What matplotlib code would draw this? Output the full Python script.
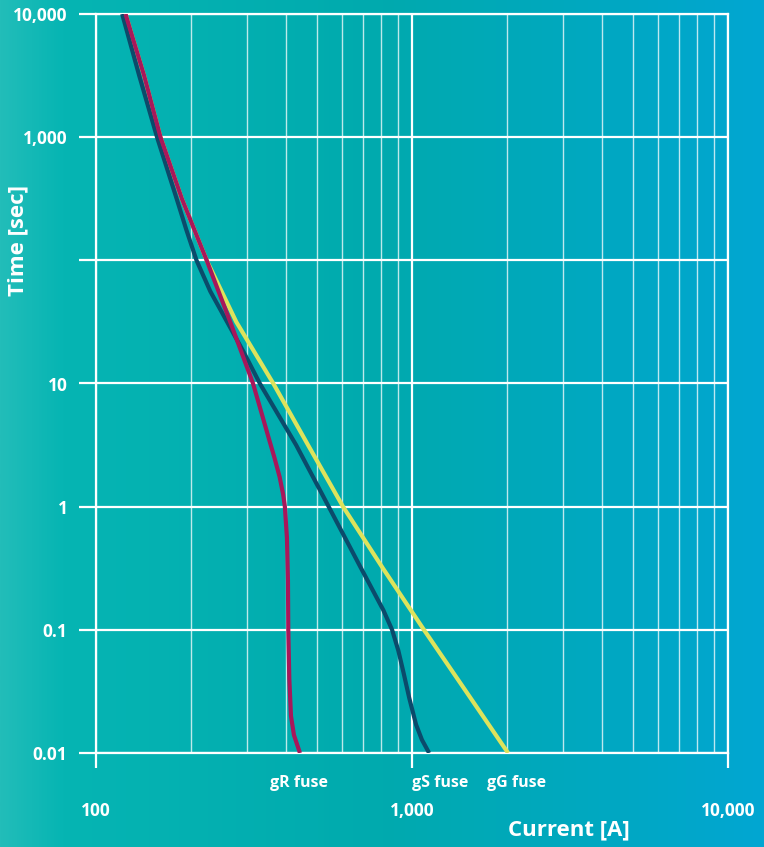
import matplotlib as mpl
mpl.use('Agg')
import matplotlib.pyplot as plt
import numpy as np
from matplotlib.colors import LinearSegmentedColormap

plt.rcParams['font.family'] = ['Open Sans', 'DejaVu Sans']

# data (current in A, time in s)
gR_current = [124, 142, 160, 187, 224, 266, 314, 335, 351, 367, 381, 391, 396, 402, 405, 406, 409, 414, 423, 442]
gR_time = [10000, 3160, 1000, 316, 100, 31.6, 10, 5.62, 3.7, 2.5, 1.75, 1.26, 1.0, 0.56, 0.25, 0.1, 0.04, 0.02, 0.014, 0.01]

gS_current = [121, 137, 156, 180, 193, 208, 230, 260, 294, 330, 430, 545, 690, 811, 865, 905, 940, 980, 1030, 1075, 1133]
gS_time = [10000, 3160, 1000, 316, 178, 100, 56, 31.6, 17.8, 10, 3.16, 1.0, 0.316, 0.145, 0.1, 0.068, 0.045, 0.028, 0.017, 0.0128, 0.01]

gG_current = [124, 142, 160, 187, 224, 278, 364, 469, 605, 809, 1091, 1483, 2014]
gG_time = [10000, 3160, 1000, 316, 100, 31.6, 10, 3.16, 1.0, 0.316, 0.1, 0.0316, 0.01]

y_ticks = [0.01, 0.1, 1, 10, 100, 1000, 10000]
y_ticklabels = ['0.01', '0.1', '1', '10', '', '1,000', '10,000']
x_ticks = [100, 1000, 10000]
x_ticklabels = ['100', '1,000', '10,000']

fuse_names = ['gR fuse', 'gS fuse', 'gG fuse']
fuse_label_x = [439, 1227, 2148]

fig = plt.figure(figsize=(7.64, 8.47), dpi=100)

# background gradient
bg = fig.add_axes([0, 0, 1, 1], zorder=-10)
cmap = LinearSegmentedColormap.from_list('bg', [
    (0.0, '#22bdb9'), (0.08, '#06b5b3'), (0.5, '#00aaae'),
    (0.8, '#00a8c2'), (1.0, '#02a6d2')])
bg.imshow(np.linspace(0, 1, 256)[None, :], aspect='auto', cmap=cmap, extent=[0, 1, 0, 1])
bg.axis('off')

ax = fig.add_axes([96 / 764, 94 / 847, 632 / 764, 739 / 847])
ax.set_facecolor('none')
ax.set_xscale('log')
ax.set_yscale('log')
ax.set_xlim(100, 10000)
ax.set_ylim(0.01, 10000)

for s in ax.spines.values():
    s.set_color('white')
    s.set_linewidth(1.6)

ax.set_yticks(y_ticks)
ax.set_yticklabels(y_ticklabels)
ax.yaxis.set_minor_locator(mpl.ticker.NullLocator())
ax.set_xticks(x_ticks)
ax.set_xticklabels(x_ticklabels)
ax.xaxis.set_minor_locator(mpl.ticker.LogLocator(base=10, subs=np.arange(2, 10)))
ax.xaxis.set_minor_formatter(mpl.ticker.NullFormatter())

ax.tick_params(axis='y', which='major', length=12.5, width=1.6, color='white',
               labelcolor='white', labelsize=12.5, pad=8)
ax.tick_params(axis='x', which='major', length=11, width=1.6, color='white',
               labelcolor='white', labelsize=12.5, pad=24)
ax.tick_params(axis='x', which='minor', length=0)
for lab in ax.get_xticklabels() + ax.get_yticklabels():
    lab.set_fontweight('bold')

ax.grid(True, which='major', axis='both', color='white', linewidth=1.6)
ax.grid(True, which='minor', axis='x', color='white', linewidth=1.0, alpha=0.75)
ax.set_axisbelow(True)

ax.plot(gG_current, gG_time, color='#dde35c', linewidth=3.0, solid_capstyle='butt',
        solid_joinstyle='round', zorder=3)
ax.plot(gS_current, gS_time, color='#0b4b6b', linewidth=3.0, solid_capstyle='butt',
        solid_joinstyle='round', zorder=4)
ax.plot(gR_current, gR_time, color='#a8175a', linewidth=3.0, solid_capstyle='butt',
        solid_joinstyle='round', zorder=5)

for name, xv in zip(fuse_names, fuse_label_x):
    ax.text(xv, -0.04, name, transform=ax.get_xaxis_transform(), ha='center', va='center',
            color='white', fontsize=11.5, fontweight='bold')

fig.text(18 / 764, 1 - 240 / 847, 'Time [sec]', rotation=90, ha='center', va='center',
         color='white', fontsize=16, fontweight='bold')
fig.text(569 / 764, 1 - 830 / 847, 'Current [A]', ha='center', va='center',
         color='white', fontsize=16, fontweight='bold')

fig.savefig('out.png', dpi=100)
